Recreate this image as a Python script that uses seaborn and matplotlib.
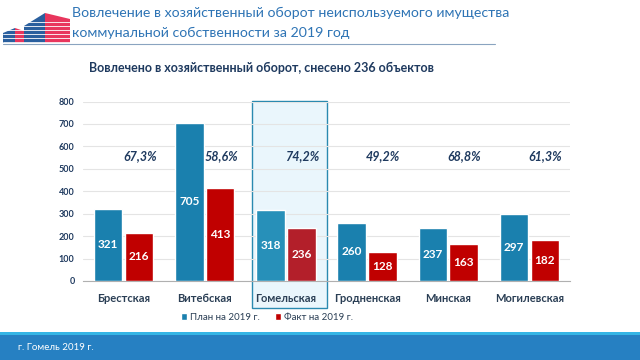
import pandas as pd
import matplotlib
matplotlib.use("Agg")
import matplotlib.pyplot as plt
from matplotlib.patches import Rectangle, Polygon
from matplotlib.transforms import blended_transform_factory
import seaborn as sns

# data
regions = ["Брестская", "Витебская", "Гомельская", "Гродненская", "Минская", "Могилевская"]
plan = [321, 705, 318, 260, 237, 297]
fact = [216, 413, 236, 128, 163, 182]
percents = ["67,3%", "58,6%", "74,2%", "49,2%", "68,8%", "61,3%"]
series = ["План на 2019 г.", "Факт на 2019 г."]

df = pd.DataFrame({
    "region": regions * 2,
    "value": plan + fact,
    "series": [series[0]] * len(regions) + [series[1]] * len(regions),
})

sns.set_style("white")
plt.rcParams["font.family"] = ["Lato", "DejaVu Sans"]

dark = "#1f3a5f"
blue = "#1a80ae"
red = "#c00000"

fig = plt.figure(figsize=(6.4, 3.6), dpi=100)
ax = fig.add_axes([83 / 640, 1 - 281 / 360, 487 / 640, 179.5 / 360])

sns.barplot(data=df, x="region", y="value", hue="series", saturation=1,
            palette=[blue, red], width=0.76, gap=0.08, ax=ax, zorder=3)

# highlighted region (Гомельская) gets slightly different shades
for cont, col in zip(ax.containers, ["#2790b9", "#b31f2a"]):
    cont.patches[2].set_facecolor(col)

for cont in ax.containers:
    ax.bar_label(cont, label_type="center", color="white", fontweight="bold",
                 fontsize=8.5)

# percent of plan done
for i, p in enumerate(percents):
    ax.text(i + 0.2, 557, p, ha="center", va="center", fontsize=9,
            fontweight="bold", fontstyle="italic", color=dark)

# box around Гомельская
tr = blended_transform_factory(ax.transData, ax.transAxes)
ax.add_patch(Rectangle((1.58, -0.15), 0.92, 1.155, transform=tr,
                       facecolor="#eaf6fc", edgecolor="#2a8ab0", lw=1.0,
                       clip_on=False, zorder=0))

ax.set_ylim(0, 800)
ax.set_yticks(range(0, 801, 100))
ax.set_xlabel("")
ax.set_ylabel("")
ax.yaxis.grid(True, color="#e4e4e4", lw=0.8, zorder=1)
ax.set_axisbelow(True)
ax.patch.set_alpha(0)
for s in ["left", "right", "top"]:
    ax.spines[s].set_visible(False)
ax.spines["bottom"].set_color("#b0b0b0")
ax.tick_params(axis="both", length=0)
ax.tick_params(axis="x", pad=9, labelsize=8, labelcolor="#2b3f55")
ax.tick_params(axis="y", pad=6, labelsize=6.5, labelcolor=dark)
for t in ax.get_xticklabels() + ax.get_yticklabels():
    t.set_fontweight("bold")

sns.move_legend(ax, "center", bbox_to_anchor=(267 / 640, 1 - 317 / 360),
                bbox_transform=fig.transFigure, ncol=2, frameon=False,
                title=None, fontsize=7, handlelength=0.7, handleheight=0.7,
                handletextpad=0.3, columnspacing=1.5)
for t in ax.get_legend().get_texts():
    t.set_color("#2b3f55")

# header
fig.text(72 / 640, 1 - 13 / 360, "Вовлечение в хозяйственный оборот неиспользуемого имущества",
         fontsize=10.2, color="#2e74b5", va="center", ha="left")
fig.text(72 / 640, 1 - 33 / 360, "коммунальной собственности за 2019 год",
         fontsize=10.2, color="#2e74b5", va="center", ha="left")
fig.add_artist(plt.Line2D([3 / 640, 495 / 640], [1 - 43.5 / 360] * 2,
                          color="#8aa4c0", lw=0.8))
fig.text(261 / 640, 1 - 68 / 360, "Вовлечено в хозяйственный оборот, снесено 236 объектов",
         fontsize=9, fontweight="bold", color=dark, ha="center", va="center")

# small building logo
def px(pts):
    return [(x / 640, 1 - y / 360) for x, y in pts]

logo = [
    ([(3, 43), (3, 33), (15, 28), (15, 43)], "#2a5f9e"),
    ([(15, 43), (15, 28), (24, 31), (24, 43)], "#e8365d"),
    ([(24, 43), (24, 26), (45, 13), (45, 43)], "#2a5f9e"),
    ([(45, 43), (45, 13), (70, 19), (70, 43)], "#e8365d"),
]
for pts, col in logo:
    fig.add_artist(Polygon(px(pts), closed=True, facecolor=col, edgecolor="none"))
for y in range(22, 43, 4):
    fig.add_artist(plt.Line2D([3 / 640, 70 / 640], [1 - y / 360] * 2,
                              color="white", lw=0.6))

# footer band
fig.add_artist(Rectangle((0, 0), 1, 25 / 360, transform=fig.transFigure,
                         facecolor="#2680c2", edgecolor="none"))
fig.add_artist(Rectangle((0, 25 / 360), 1, 3 / 360, transform=fig.transFigure,
                         facecolor="#35b5e5", edgecolor="none"))
fig.text(18 / 640, 1 - 347 / 360, "г. Гомель 2019 г.", fontsize=7, color="white",
         va="center", ha="left")

fig.savefig("out.png", dpi=100)
